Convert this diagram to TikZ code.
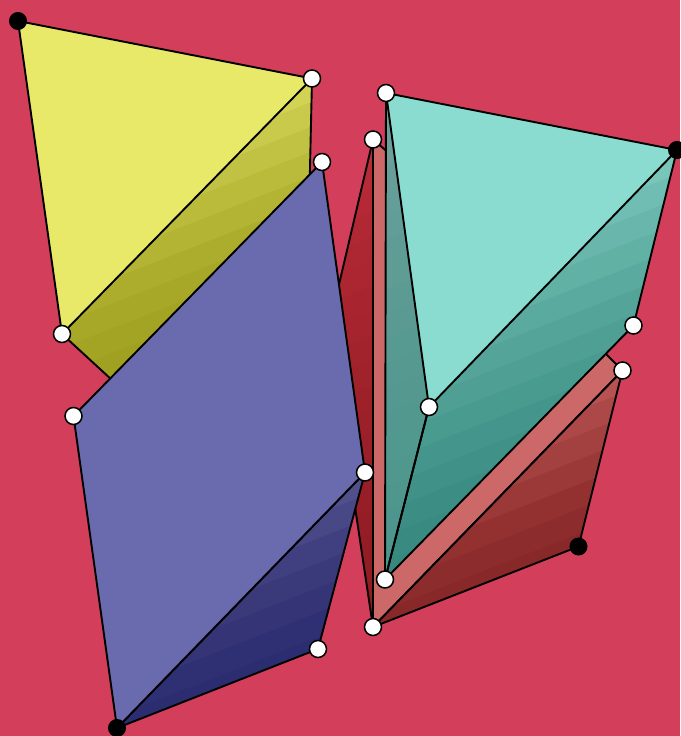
\documentclass[tikz,border=0pt]{standalone}
\definecolor{bgc}{HTML}{D33F5A}
\definecolor{yelL}{HTML}{E9E969}
\definecolor{yelA}{HTML}{D2D254}
\definecolor{yelB}{HTML}{9F9F1F}
\definecolor{bluL}{HTML}{6A6AAE}
\definecolor{bluA}{HTML}{50508C}
\definecolor{bluB}{HTML}{2A2A70}
\definecolor{teaL}{HTML}{8ADBD0}
\definecolor{teaA}{HTML}{78C6BA}
\definecolor{teaB}{HTML}{36887E}
\definecolor{stpA}{HTML}{6FA19D}
\definecolor{stpB}{HTML}{4C968C}
\definecolor{salL}{HTML}{CC6868}
\definecolor{redA}{HTML}{B85252}
\definecolor{redB}{HTML}{862626}
\definecolor{drdA}{HTML}{BA2C38}
\definecolor{drdB}{HTML}{921C24}
\newcommand{\foldbands}[6]{%
  \begin{scope}
    \clip #1;
    \pgfmathsetmacro{\nb}{int(ceil((#5-#4)/#6))}
    \foreach \i in {0,...,\nb}{
      \pgfmathsetmacro{\ta}{#4+\i*#6}
      \pgfmathsetmacro{\tb}{\ta+#6+1}
      \pgfmathsetmacro{\pct}{100*(max(1-\i/max(\nb,1),0.001))^1.6}
      \fill[#2!\pct!#3]
        ({\ta*0.365-1000*0.93},{\ta*0.93+1000*0.365}) --
        ({\ta*0.365+1000*0.93},{\ta*0.93-1000*0.365}) --
        ({\tb*0.365+1000*0.93},{\tb*0.93-1000*0.365}) --
        ({\tb*0.365-1000*0.93},{\tb*0.93+1000*0.365}) -- cycle;
    }
  \end{scope}}
\tikzset{
  edgeline/.style={draw=black,line width=1.9pt,line join=round},
  whitedot/.style={circle,draw=black,fill=white,line width=1.5pt,minimum size=17pt,inner sep=0pt},
  blackdot/.style={circle,draw=black,fill=black,line width=1pt,minimum size=17pt,inner sep=0pt}
}
\begin{document}
\begin{tikzpicture}[x=1pt,y=-1pt]
\useasboundingbox (0,0) rectangle (680,736);
\fill[bgc] (0,0) rectangle (680,736);
% yellow
\coordinate (ya) at (18,21); \coordinate (yb) at (312,78.5); \coordinate (yc) at (62,334);
\coordinate (yd) at (309.5,190); \coordinate (ye) at (125,392);
\foldbands{(yb)--(yd)--(ye)--(yc)--cycle}{yelA}{yelB}{186}{391}{23}
\draw[edgeline] (yb)--(yd)--(ye)--(yc);
\draw[edgeline,fill=yelL] (ya)--(yb)--(yc)--cycle;
% red
\coordinate (ra) at (373,139.5); \coordinate (rb) at (373,627); \coordinate (rc) at (622.5,370.5);
\coordinate (rd) at (578.5,546.5); \coordinate (re) at (390,154); \coordinate (rf) at (595,343);
\coordinate (rg) at (333,310); \coordinate (rh) at (345,450); \coordinate (ri) at (355,507);
\foldbands{(ra)--(rg)--(rh)--(ri)--(rb)--cycle}{drdA}{drdB}{265}{700}{23}
\draw[edgeline] (ra)--(rg)--(rh)--(ri)--(rb)--cycle;
\draw[edgeline,fill=salL] (ra)--(re)--(rf)--(rc)--(rb)--cycle;
\foldbands{(rc)--(rd)--(rb)--cycle}{redA}{redB}{571}{719}{23}
\draw[edgeline] (rc)--(rd)--(rb)--cycle;
% teal
\coordinate (ta) at (386,93); \coordinate (tb) at (677,150); \coordinate (tc) at (429,407);
\coordinate (td) at (633.5,325.5); \coordinate (te) at (385,579.5);
\foldbands{(ta)--(tc)--(te)--cycle}{stpA}{stpB}{227}{679}{23}
\foldbands{(tb)--(td)--(te)--(tc)--cycle}{teaA}{teaB}{387}{679}{23}
\draw[edgeline] (tb)--(td)--(te)--(tc);
\draw[edgeline] (ta)--(te)--(tc);
\draw[edgeline,fill=teaL] (ta)--(tb)--(tc)--cycle;
% blue
\coordinate (ba) at (322,162); \coordinate (bb) at (73.5,416); \coordinate (bc) at (117,728);
\coordinate (bd) at (365,472.5); \coordinate (be) at (318,649);
\foldbands{(bd)--(be)--(bc)--cycle}{bluA}{bluB}{572}{720}{23}
\draw[edgeline] (bd)--(be)--(bc)--cycle;
\draw[edgeline,fill=bluL] (ba)--(bb)--(bc)--(bd)--cycle;
% dots
\node[blackdot] (n1) at (ya) {};
\node[whitedot] (n2) at (yb) {};
\node[whitedot] (n3) at (yc) {};
\node[whitedot] (n4) at (ba) {};
\node[whitedot] (n5) at (bb) {};
\node[blackdot] (n6) at (bc) {};
\node[whitedot] (n7) at (bd) {};
\node[whitedot] (n8) at (be) {};
\node[whitedot] (n9) at (ta) {};
\node[blackdot] (n10) at (tb) {};
\node[whitedot] (n11) at (tc) {};
\node[whitedot] (n12) at (td) {};
\node[whitedot] (n13) at (te) {};
\node[whitedot] (n14) at (ra) {};
\node[whitedot] (n15) at (rb) {};
\node[whitedot] (n16) at (rc) {};
\node[blackdot] (n17) at (rd) {};
\end{tikzpicture}
\end{document}
